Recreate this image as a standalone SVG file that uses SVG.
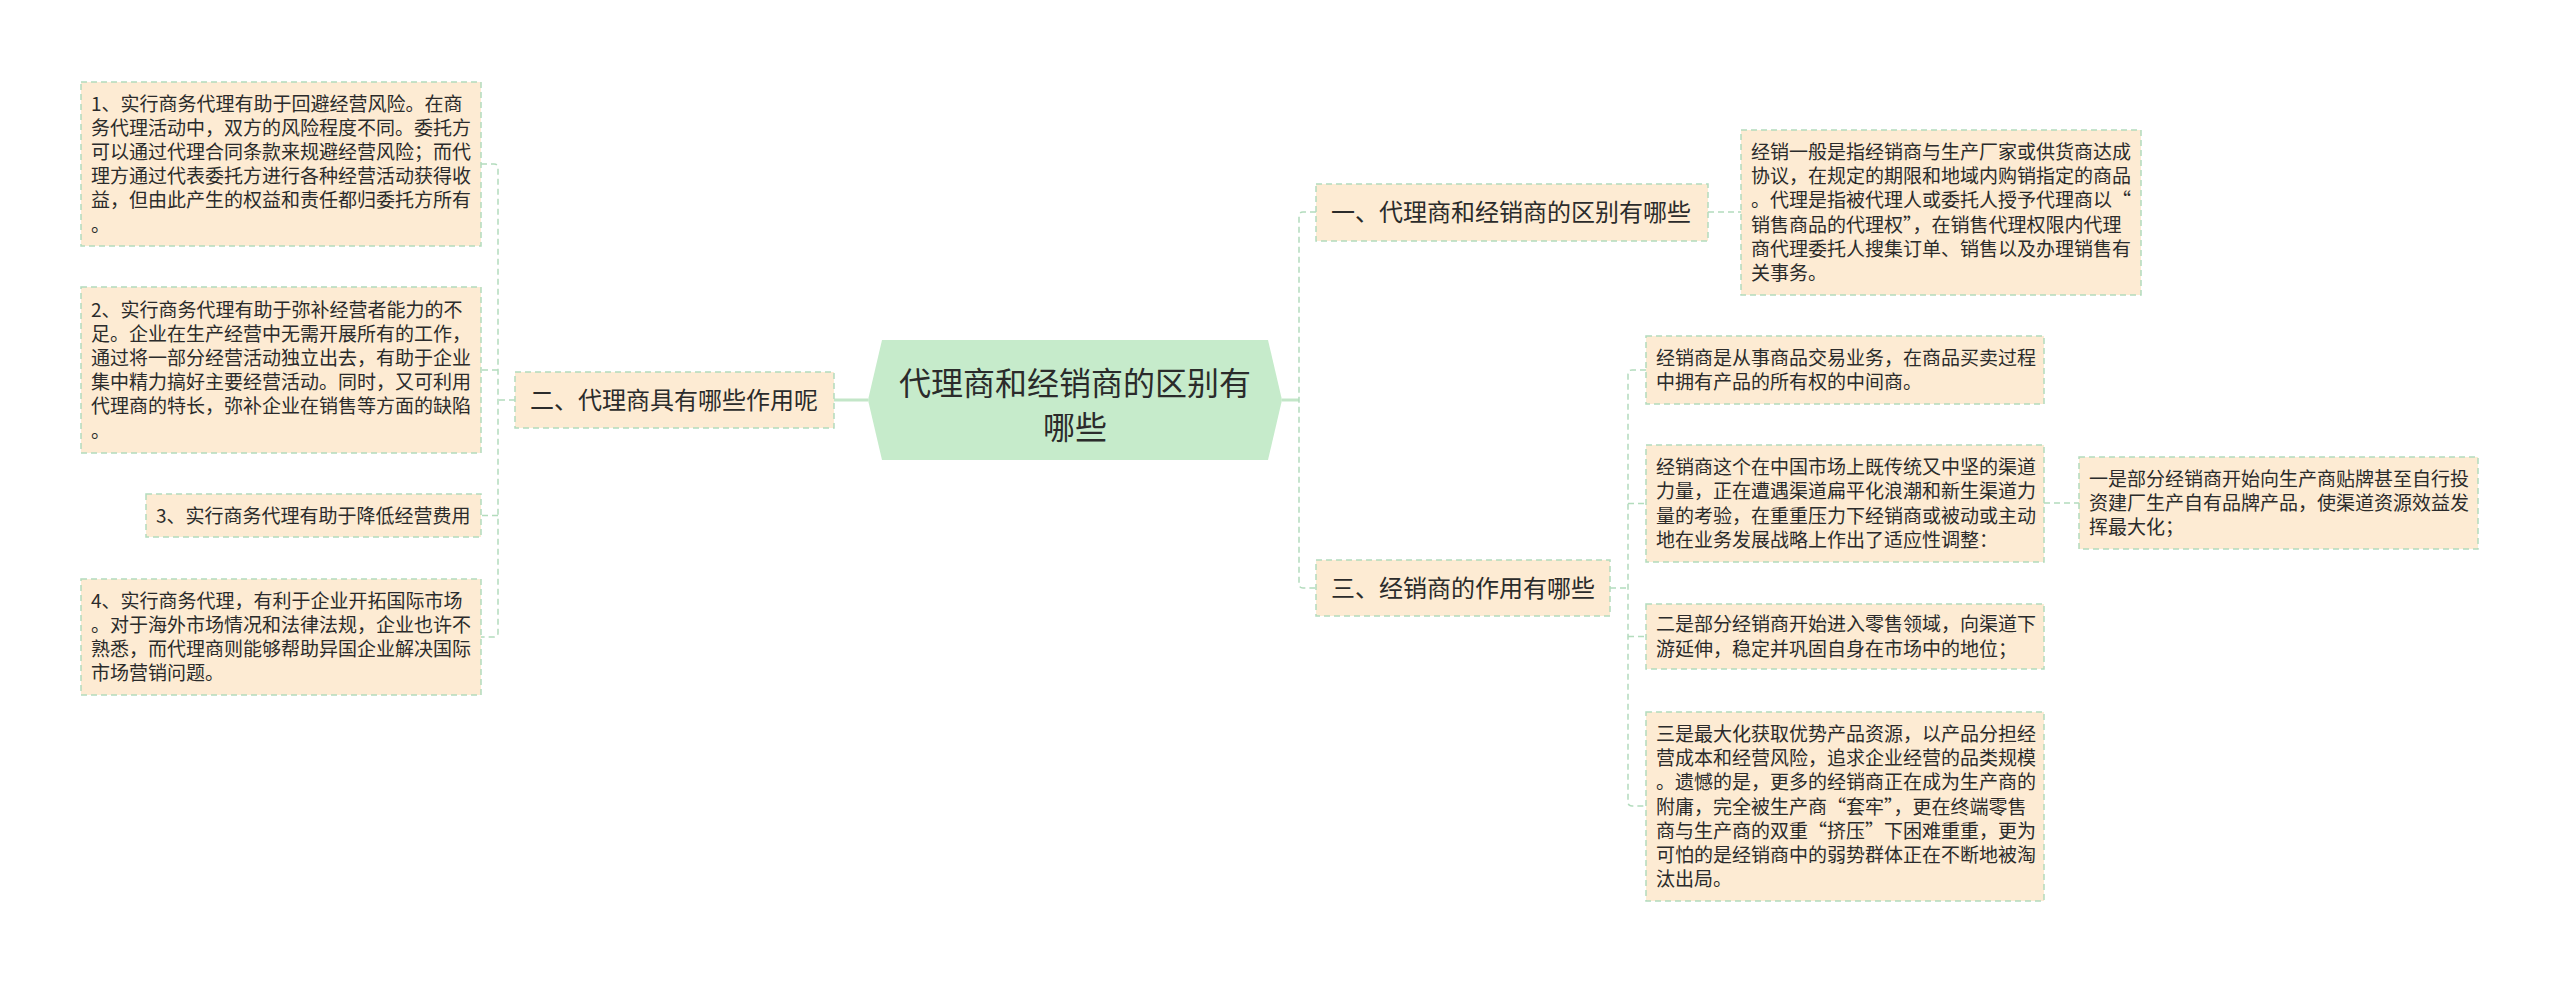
<svg xmlns="http://www.w3.org/2000/svg" width="2560" height="983" viewBox="0 0 2560 983">
<style>
.box{fill:#fdebd3;stroke:#b3dcbd;stroke-width:1.5;stroke-dasharray:6 4}
.hex{fill:#c6ebcb}
.t{font-family:"Noto Sans CJK SC","Noto Sans",sans-serif;fill:#2b2b2b}
.s{font-size:19px}
.m{font-size:24px}
.c{font-size:32px}
.con{fill:none;stroke:#b3dcbd;stroke-width:1.5;stroke-dasharray:6 4}
.solid{fill:none;stroke:#c3e6c8;stroke-width:3}
</style>
<rect width="2560" height="983" fill="#ffffff"/>
<g id="connectors">
<path class="con" d="M481,164 H494 Q498,164 498,168 V633 Q498,637 494,637 H481"/>
<path class="con" d="M498,370 H481"/>
<path class="con" d="M498,515.5 H481"/>
<path class="con" d="M515,400 H498"/>
<path class="solid" d="M834,400 H868"/>
<path class="solid" d="M1282,400 H1299"/>
<path class="con" d="M1316,212 H1303 Q1299,212 1299,216 V584 Q1299,588 1303,588 H1316"/>
<path class="con" d="M1708,212 H1741"/>
<path class="con" d="M1610,588 H1628"/>
<path class="con" d="M1646,370 H1632 Q1628,370 1628,374 V802 Q1628,806 1632,806 H1646"/>
<path class="con" d="M1628,503.5 H1646"/>
<path class="con" d="M1628,636.5 H1646"/>
<path class="con" d="M2044,503 H2079"/>
</g>
<g id="root">
<polygon class="hex" points="868,400 882,340 1268,340 1282,400 1268,460 882,460"/>
<text class="t c" text-anchor="middle"><tspan x="1075" y="395">代理商和经销商的区别有</tspan><tspan x="1075" y="439">哪些</tspan></text>
</g>
<g id="n2">
<rect class="box" x="515" y="372" width="319" height="56"/>
<text class="t m" x="530" y="409">二、代理商具有哪些作用呢</text>
</g>
<g id="leaf1">
<rect class="box" x="81" y="82" width="400" height="164"/>
<text class="t s"><tspan x="91" y="110.5">1、实行商务代理有助于回避经营风险。在商</tspan><tspan x="91" y="134.7">务代理活动中，双方的风险程度不同。委托方</tspan><tspan x="91" y="158.9">可以通过代理合同条款来规避经营风险；而代</tspan><tspan x="91" y="183.1">理方通过代表委托方进行各种经营活动获得收</tspan><tspan x="91" y="207.3">益，但由此产生的权益和责任都归委托方所有</tspan><tspan x="91" y="231.5">。</tspan></text>
</g>
<g id="leaf2">
<rect class="box" x="81" y="287" width="400" height="166"/>
<text class="t s"><tspan x="91" y="316.5">2、实行商务代理有助于弥补经营者能力的不</tspan><tspan x="91" y="340.7">足。企业在生产经营中无需开展所有的工作，</tspan><tspan x="91" y="364.9">通过将一部分经营活动独立出去，有助于企业</tspan><tspan x="91" y="389.1">集中精力搞好主要经营活动。同时，又可利用</tspan><tspan x="91" y="413.3">代理商的特长，弥补企业在销售等方面的缺陷</tspan><tspan x="91" y="437.5">。</tspan></text>
</g>
<g id="leaf3">
<rect class="box" x="146" y="494" width="335" height="43"/>
<text class="t s" x="156" y="522.5">3、实行商务代理有助于降低经营费用</text>
</g>
<g id="leaf4">
<rect class="box" x="81" y="579" width="400" height="116"/>
<text class="t s"><tspan x="91" y="607.7">4、实行商务代理，有利于企业开拓国际市场</tspan><tspan x="91" y="631.9">。对于海外市场情况和法律法规，企业也许不</tspan><tspan x="91" y="656.1">熟悉，而代理商则能够帮助异国企业解决国际</tspan><tspan x="91" y="680.3">市场营销问题。</tspan></text>
</g>
<g id="n1">
<rect class="box" x="1316" y="184" width="392" height="57"/>
<text class="t m" x="1331" y="221">一、代理商和经销商的区别有哪些</text>
</g>
<g id="n1detail">
<rect class="box" x="1741" y="130" width="400" height="165"/>
<text class="t s"><tspan x="1751" y="159">经销一般是指经销商与生产厂家或供货商达成</tspan><tspan x="1751" y="183.2">协议，在规定的期限和地域内购销指定的商品</tspan><tspan x="1751" y="207.4">。代理是指被代理人或委托人授予代理商以“</tspan><tspan x="1751" y="231.6">销售商品的代理权”，在销售代理权限内代理</tspan><tspan x="1751" y="255.8">商代理委托人搜集订单、销售以及办理销售有</tspan><tspan x="1751" y="280">关事务。</tspan></text>
</g>
<g id="n3">
<rect class="box" x="1316" y="560" width="294" height="56"/>
<text class="t m" x="1331" y="597">三、经销商的作用有哪些</text>
</g>
<g id="c1">
<rect class="box" x="1646" y="336" width="398" height="68"/>
<text class="t s"><tspan x="1656" y="364.9">经销商是从事商品交易业务，在商品买卖过程</tspan><tspan x="1656" y="389.1">中拥有产品的所有权的中间商。</tspan></text>
</g>
<g id="c2">
<rect class="box" x="1646" y="445" width="398" height="117"/>
<text class="t s"><tspan x="1656" y="474.2">经销商这个在中国市场上既传统又中坚的渠道</tspan><tspan x="1656" y="498.4">力量，正在遭遇渠道扁平化浪潮和新生渠道力</tspan><tspan x="1656" y="522.6">量的考验，在重重压力下经销商或被动或主动</tspan><tspan x="1656" y="546.8">地在业务发展战略上作出了适应性调整：</tspan></text>
</g>
<g id="c2child">
<rect class="box" x="2079" y="457" width="399" height="92"/>
<text class="t s"><tspan x="2089" y="485.8">一是部分经销商开始向生产商贴牌甚至自行投</tspan><tspan x="2089" y="510">资建厂生产自有品牌产品，使渠道资源效益发</tspan><tspan x="2089" y="534.2">挥最大化；</tspan></text>
</g>
<g id="c3">
<rect class="box" x="1646" y="604" width="398" height="65"/>
<text class="t s"><tspan x="1656" y="631.4">二是部分经销商开始进入零售领域，向渠道下</tspan><tspan x="1656" y="655.6">游延伸，稳定并巩固自身在市场中的地位；</tspan></text>
</g>
<g id="c4">
<rect class="box" x="1646" y="712" width="398" height="189"/>
<text class="t s"><tspan x="1656" y="740.9">三是最大化获取优势产品资源，以产品分担经</tspan><tspan x="1656" y="765.1">营成本和经营风险，追求企业经营的品类规模</tspan><tspan x="1656" y="789.3">。遗憾的是，更多的经销商正在成为生产商的</tspan><tspan x="1656" y="813.5">附庸，完全被生产商“套牢”，更在终端零售</tspan><tspan x="1656" y="837.7">商与生产商的双重“挤压”下困难重重，更为</tspan><tspan x="1656" y="861.9">可怕的是经销商中的弱势群体正在不断地被淘</tspan><tspan x="1656" y="886.1">汰出局。</tspan></text>
</g>
</svg>
